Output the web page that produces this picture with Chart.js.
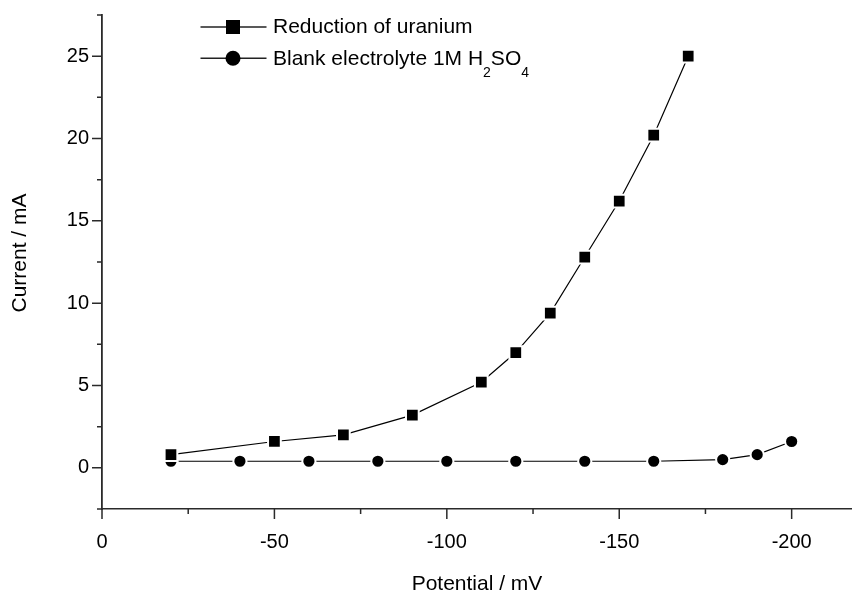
<!DOCTYPE html>
<html>
<head>
<meta charset="utf-8">
<title>Current vs potential</title>
<script src="https://cdn.jsdelivr.net/npm/chart.js@4/dist/chart.umd.min.js"></script>
<style>
  html, body { margin: 0; padding: 0; background: #fff; }
  #wrap { width: 852px; height: 595px; }
</style>
</head>
<body>
<div id="wrap"><canvas id="c" width="852" height="595"></canvas></div>
<script>
// Potential (mV) and current (mA) for the uranium reduction run
const potentialUranium = [-20, -50, -70, -90, -110, -120, -130, -140, -150, -160, -170];
const currentUranium   = [0.8, 1.6, 2.0, 3.2, 5.2, 7.0, 9.4, 12.8, 16.2, 20.2, 25.0];

// Blank electrolyte run
const potentialBlank = [-20, -40, -60, -80, -100, -120, -140, -160, -180, -190, -200];
const currentBlank   = [0.4, 0.4, 0.4, 0.4, 0.4, 0.4, 0.4, 0.4, 0.5, 0.8, 1.6];

const seriesLabels = ['Reduction of uranium', 'Blank electrolyte 1M H\u2082SO\u2084'];

// Tick positions: labelled (major) and unlabelled (minor)
const xMajorTicks = [0, -50, -100, -150, -200];
const xMinorTicks = [-25, -75, -125, -175];
const yMajorTicks = [0, 5, 10, 15, 20, 25];
const yMinorTicks = [-2.5, 2.5, 7.5, 12.5, 17.5, 22.5, 27.5];

const xTitle = 'Potential / mV';
const yTitle = 'Current / mA';

const FONT = '"Liberation Sans", Arial, Helvetica, sans-serif';
const INK = '#000';
const AXIS = '#2a2a2a';

const toPoints = (xs, ys) => xs.map((x, i) => ({ x: x, y: ys[i] }));
const isMajor = (list, v) => list.some(m => Math.abs(m - v) < 1e-9);

// Short tick marks pointing out of the plot, longer on labelled ticks
const tickMarks = {
  id: 'tickMarks',
  afterDraw(chart) {
    const { ctx } = chart;
    const xs = chart.scales.x, ys = chart.scales.y;
    ctx.save();
    ctx.strokeStyle = AXIS;
    ctx.lineWidth = 1.5;
    ctx.beginPath();
    xs.ticks.forEach(t => {
      const px = xs.getPixelForValue(t.value);
      const len = isMajor(xMajorTicks, t.value) ? 10 : 5;
      ctx.moveTo(px, xs.top);
      ctx.lineTo(px, xs.top + len);
    });
    ys.ticks.forEach(t => {
      const py = ys.getPixelForValue(t.value);
      const len = isMajor(yMajorTicks, t.value) ? 10 : 5;
      ctx.moveTo(ys.right, py);
      ctx.lineTo(ys.right - len, py);
    });
    ctx.stroke();
    ctx.restore();
  }
};

// Rotated title for the current axis
const yAxisTitle = {
  id: 'yAxisTitle',
  afterDraw(chart) {
    const { ctx } = chart;
    ctx.save();
    ctx.translate(20, 253);
    ctx.rotate(-Math.PI / 2);
    ctx.font = '21px ' + FONT;
    ctx.fillStyle = INK;
    ctx.textAlign = 'center';
    ctx.textBaseline = 'middle';
    ctx.fillText(yTitle, 0, 0);
    ctx.restore();
  }
};

// Legend: line with marker, then the label; subscript digits drawn smaller and lower
const subDigits = '\u2080\u2081\u2082\u2083\u2084\u2085\u2086\u2087\u2088\u2089';
const lineLegend = {
  id: 'lineLegend',
  afterDraw(chart) {
    const { ctx } = chart;
    const rows = [{ mid: 27, base: 33.3 }, { mid: 58.3, base: 65 }];
    ctx.save();
    chart.data.datasets.forEach((ds, i) => {
      const r = rows[i];
      ctx.strokeStyle = '#222';
      ctx.lineWidth = 1.5;
      ctx.beginPath();
      ctx.moveTo(200.5, r.mid);
      ctx.lineTo(266.5, r.mid);
      ctx.stroke();
      ctx.fillStyle = INK;
      ctx.beginPath();
      if (ds.pointStyle === 'rect') {
        ctx.rect(233 - 7, r.mid - 7, 14, 14);
      } else {
        ctx.arc(233, r.mid, 7.5, 0, Math.PI * 2);
      }
      ctx.fill();

      let x = 273;
      ctx.textBaseline = 'alphabetic';
      ctx.textAlign = 'left';
      let run = '';
      const flush = () => {
        if (!run) return;
        ctx.font = '21px ' + FONT;
        ctx.fillText(run, x, r.base);
        x += ctx.measureText(run).width;
        run = '';
      };
      for (const ch of ds.label) {
        const k = subDigits.indexOf(ch);
        if (k >= 0) {
          flush();
          ctx.font = '14px ' + FONT;
          ctx.fillText(String(k), x, r.base + 11.5);
          x += ctx.measureText(String(k)).width;
        } else {
          run += ch;
        }
      }
      flush();
    });
    ctx.restore();
  }
};

new Chart(document.getElementById('c'), {
  type: 'scatter',
  data: {
    datasets: [
      {
        label: seriesLabels[0],
        data: toPoints(potentialUranium, currentUranium),
        showLine: true,
        tension: 0,
        borderColor: INK,
        borderWidth: 1.2,
        pointStyle: 'rect',
        pointRadius: 9,
        pointBackgroundColor: INK,
        pointBorderColor: '#fff',
        pointBorderWidth: 2,
        order: 0
      },
      {
        label: seriesLabels[1],
        data: toPoints(potentialBlank, currentBlank),
        showLine: true,
        tension: 0,
        borderColor: INK,
        borderWidth: 1.2,
        pointStyle: 'circle',
        pointRadius: 6.6,
        pointBackgroundColor: INK,
        pointBorderColor: '#fff',
        pointBorderWidth: 2,
        order: 1
      }
    ]
  },
  options: {
    responsive: false,
    animation: false,
    devicePixelRatio: 1,
    events: [],
    layout: { padding: { top: 15, right: 0, bottom: 0, left: 0 }, autoPadding: false },
    plugins: {
      legend: { display: false },
      tooltip: { enabled: false },
      title: { display: false }
    },
    scales: {
      x: {
        type: 'linear',
        reverse: true,
        min: -217.5,
        max: 0,
        afterBuildTicks: s => {
          s.ticks = xMajorTicks.concat(xMinorTicks).sort((a, b) => b - a).map(v => ({ value: v }));
        },
        afterFit: s => {
          s.height = 86;
          s.paddingLeft = 0; s.paddingRight = 0; s.paddingTop = 0; s.paddingBottom = 0;
        },
        grid: { display: true, drawOnChartArea: false, drawTicks: false },
        border: { display: true, color: AXIS, width: 1.5 },
        ticks: {
          padding: 21,
          color: INK,
          font: { family: FONT, size: 20 },
          maxRotation: 0,
          autoSkip: false,
          callback: v => isMajor(xMajorTicks, v) ? String(v) : ''
        },
        title: {
          display: true,
          text: xTitle,
          color: INK,
          font: { family: FONT, size: 21, lineHeight: 1 },
          padding: { top: 0, bottom: 0 }
        }
      },
      y: {
        type: 'linear',
        min: -2.5,
        max: 27.5,
        afterBuildTicks: s => {
          s.ticks = yMajorTicks.concat(yMinorTicks).sort((a, b) => a - b).map(v => ({ value: v }));
        },
        afterFit: s => {
          s.width = 102;
          s.paddingLeft = 0; s.paddingRight = 0; s.paddingTop = 0; s.paddingBottom = 0;
        },
        grid: { display: true, drawOnChartArea: false, drawTicks: false },
        border: { display: true, color: AXIS, width: 1.8 },
        ticks: {
          padding: 13,
          color: INK,
          font: { family: FONT, size: 20 },
          autoSkip: false,
          callback: v => isMajor(yMajorTicks, v) ? String(v) : ''
        }
      }
    }
  },
  plugins: [tickMarks, yAxisTitle, lineLegend]
});
</script>
</body>
</html>
